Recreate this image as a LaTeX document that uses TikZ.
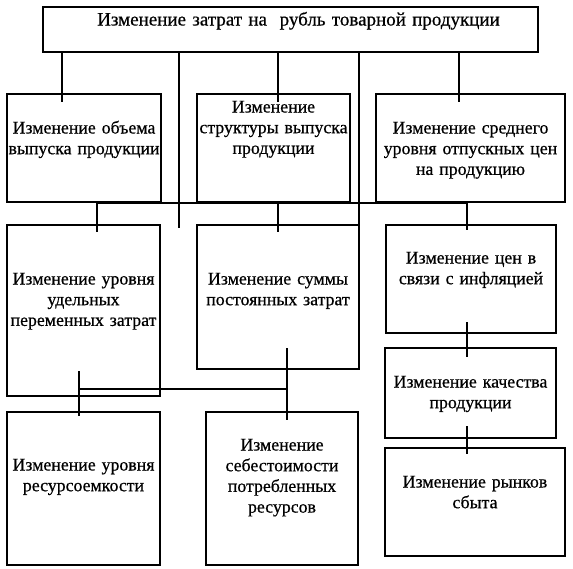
\documentclass[tikz,border=0pt]{standalone}
\usepackage{fontspec}
\setmainfont{Liberation Serif}[FakeBold=0.6,AutoFakeBold=0]
\usepackage{tikz}

\begin{document}
\begin{tikzpicture}[x=1pt,y=-1pt,
  box_node/.style={draw,line width=1.3pt,rectangle,align=center,inner sep=0pt,text height=0pt,
    font=\fontsize{17.8}{20.7}\selectfont},
  link/.style={line width=1.3pt}]

  \useasboundingbox (0,0) rectangle (573,568);

  \node[box_node,minimum width=495,minimum height=45,text width=495,text depth=8,
    font=\fontsize{19}{20.7}\selectfont] (0) at (290.5,29.5) {\hspace*{16pt}Изменение затрат на~ рубль товарной продукции};

  \node[box_node,minimum width=154,minimum height=108,text width=154,text depth=29] (1) at (84,148) {Изменение объема\\выпуска продукции};
  \node[box_node,minimum width=153,minimum height=108,text width=153,text depth=71] (2) at (273.5,148) {Изменение\\структуры выпуска\\продукции};
  \node[box_node,minimum width=189,minimum height=108,text width=189,text depth=29] (3) at (470.5,148) {Изменение среднего\\уровня отпускных цен\\на продукцию};

  \node[box_node,minimum width=153,minimum height=171,text width=153,text depth=52] (4) at (83.5,310.5) {Изменение уровня\\удельных\\переменных затрат};
  \node[box_node,minimum width=162,minimum height=144,text width=162,text depth=25] (5) at (278,297) {Изменение суммы\\постоянных затрат};
  \node[box_node,minimum width=170,minimum height=108,text width=170,text depth=31] (6) at (471,279) {Изменение цен в\\связи с инфляцией};

  \node[box_node,minimum width=153,minimum height=153,text width=153,text depth=36] (7) at (83.5,488.5) {Изменение уровня\\ресурсоемкости};
  \node[box_node,minimum width=152,minimum height=153,text width=152,text depth=76] (8) at (282,488.5) {Изменение\\себестоимости\\потребленных\\ресурсов};
  \node[box_node,minimum width=171,minimum height=90,text width=171,text depth=11] (9) at (470.5,393) {Изменение качества\\продукции};
  \node[box_node,minimum width=180,minimum height=108,text width=180,text depth=29] (10) at (475,502) {Изменение рынков\\сбыта};

  % from the top box
  \coordinate (a1) at (62,102);
  \coordinate (a2) at (179,228);
  \coordinate (a3) at (278,102);
  \coordinate (a4) at (359,225);
  \coordinate (a5) at (459,102);
  \draw[link] (0.south -| a1) -- (a1);
  \draw[link] (0.south -| a2) -- (a2);
  \draw[link] (0.south -| a3) -- (a3);
  \draw[link] (0.south -| a4) -- (a4);
  \draw[link] (0.south -| a5) -- (a5);

  % bus under the first row
  \coordinate (bl) at (97,203);
  \coordinate (br) at (467,203);
  \coordinate (c1) at (97,232);
  \coordinate (c2) at (278,232);
  \coordinate (c3) at (467,230);
  \draw[link] (bl) -- (br);
  \draw[link] (bl) -- (c1);
  \draw[link] (c2 |- bl) -- (c2);
  \draw[link] (br) -- (c3);

  % left part
  \coordinate (d1) at (79,371);
  \coordinate (d2) at (79,416);
  \coordinate (d3) at (287,348);
  \coordinate (d4) at (287,420);
  \coordinate (d5) at (79,389);
  \draw[link] (d1) -- (d2);
  \draw[link] (d5) -- (d5 -| d3);
  \draw[link] (d3) -- (d4);

  % right column
  \coordinate (e1) at (467,322);
  \coordinate (e2) at (467,357);
  \coordinate (e3) at (467,426);
  \coordinate (e4) at (467,454);
  \draw[link] (e1) -- (e2);
  \draw[link] (e3) -- (e4);

\end{tikzpicture}
\end{document}
